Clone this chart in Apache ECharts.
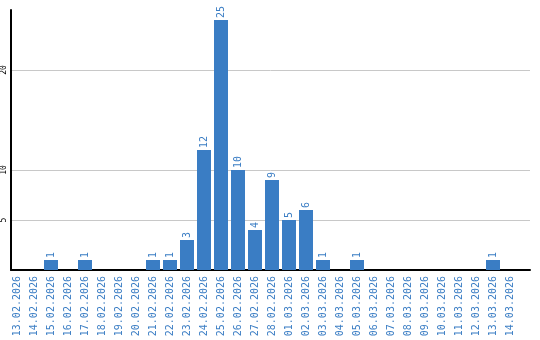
<!DOCTYPE html>
<html>
<head>
<meta charset="utf-8">
<script src="https://cdn.jsdelivr.net/npm/echarts@6/dist/echarts.min.js"></script>
<style>html,body{margin:0;padding:0;background:#fff;}#c{width:540px;height:340px;}</style>
</head>
<body>
<div id="c"></div>
<script>
var categories = ['13.02.2026','14.02.2026','15.02.2026','16.02.2026','17.02.2026','18.02.2026','19.02.2026','20.02.2026','21.02.2026','22.02.2026','23.02.2026','24.02.2026','25.02.2026','26.02.2026','27.02.2026','28.02.2026','01.03.2026','02.03.2026','03.03.2026','04.03.2026','05.03.2026','06.03.2026','07.03.2026','08.03.2026','09.03.2026','10.03.2026','11.03.2026','12.03.2026','13.03.2026','14.03.2026'];
var counts = [0,0,1,0,1,0,0,0,1,1,3,12,25,10,4,9,5,6,1,0,1,0,0,0,0,0,0,0,1,0];
var yTicks = [5,10,20];
var yMax = 26;

var blue = '#3a7dc4';
var chart = echarts.init(document.getElementById('c'), null, {renderer:'canvas'});
chart.setOption({
  animation: false,
  backgroundColor: '#fff',
  grid: [
    {left: 10, right: 10, top: 10, bottom: 70},
    {left: 8.5, width: 510, top: 10, bottom: 70}
  ],
  xAxis: [
    {type: 'value', gridIndex: 0, min: 0, max: 1,
     axisLine: {show: true, onZero: false, lineStyle: {color: '#000', width: 2}},
     axisTick: {show: false}, axisLabel: {show: false}, splitLine: {show: false}},
    {type: 'category', gridIndex: 1, data: categories, boundaryGap: true,
     axisLine: {show: false}, axisTick: {show: false}, splitLine: {show: false},
     axisLabel: {interval: 0, rotate: 90, margin: 6, color: blue,
                 fontFamily: 'DejaVu Sans Mono', fontSize: 10}}
  ],
  yAxis: [
    {type: 'value', gridIndex: 0, min: 0, max: yMax,
     axisLine: {show: true, lineStyle: {color: '#000', width: 2}},
     axisTick: {show: false, customValues: yTicks},
     axisLabel: {customValues: yTicks, rotate: 90, margin: 3, color: '#000',
                 fontFamily: 'DejaVu Sans Mono', fontSize: 8},
     splitLine: {show: true, customValues: yTicks, lineStyle: {color: '#c8c8c8', width: 1}}},
    {type: 'value', gridIndex: 1, min: 0, max: yMax, show: false, splitLine: {show: false}}
  ],
  series: [{
    type: 'bar',
    xAxisIndex: 1, yAxisIndex: 1,
    data: counts,
    barWidth: 14,
    itemStyle: {color: blue},
    label: {show: true, position: 'top', rotate: 90, align: 'left', verticalAlign: 'middle',
            distance: 2, color: blue, fontFamily: 'DejaVu Sans Mono', fontSize: 10,
            formatter: function(p){ return p.value ? String(p.value) : ''; }}
  }]
});
</script>
</body>
</html>
